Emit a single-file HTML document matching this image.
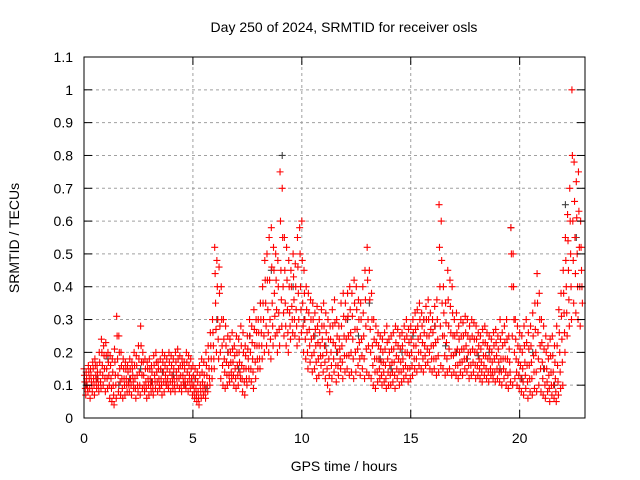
<!DOCTYPE html>
<html><head><meta charset="utf-8"><style>
body{margin:0;background:#fff;}
svg{display:block;font-family:"Liberation Sans",sans-serif;}
</style></head><body>
<svg id="chart" width="640" height="480" viewBox="0 0 640 480">
<rect width="640" height="480" fill="#fff"/>
<g id="grid"></g>
<g id="grey"></g>
<g id="red"></g>
<g id="axes"></g>
<text x="344" y="32" font-size="14" text-anchor="middle" fill="#000">Day 250 of 2024, SRMTID for receiver osls</text>
<text x="344" y="471" font-size="14" text-anchor="middle" fill="#000">GPS time / hours</text>
<text transform="translate(19,238) rotate(-90)" font-size="14" text-anchor="middle" fill="#000">SRMTID / TECUs</text>
</svg>
<script>
const xTicks=[0,5,10,15,20];
const yTicks=[0,0.1,0.2,0.3,0.4,0.5,0.6,0.7,0.8,0.9,1,1.1];
const yTickLabels=["0","0.1","0.2","0.3","0.4","0.5","0.6","0.7","0.8","0.9","1","1.1"];
const redHi=[.15,.14,.16,.15,.17,.18,.16,.2,.24,.22,.23,.2,.19,.18,.21,.31,.25,.2,.18,.17,.16,.18,.17,.2,.19,.22,.28,.2,.18,.17,.18,.16,.19,.2,.17,.18,.2,.19,.18,.2,.19,.18,.2,.21,.19,.18,.17,.2,.19,.18,.16,.15,.14,.16,.18,.17,.2,.22,.26,.3,.52,.48,.46,.4,.3,.28,.25,.24,.26,.22,.25,.24,.28,.26,.22,.25,.3,.28,.33,.3,.3,.35,.4,.48,.5,.55,.58,.52,.5,.48,.75,.7,.55,.52,.48,.45,.5,.47,.55,.58,.6,.45,.4,.38,.36,.35,.32,.34,.3,.33,.35,.32,.3,.28,.33,.36,.3,.28,.35,.38,.35,.38,.4,.38,.42,.4,.36,.35,.4,.45,.52,.45,.38,.3,.28,.26,.25,.24,.26,.28,.24,.25,.26,.28,.27,.25,.26,.28,.3,.27,.28,.3,.32,.33,.35,.32,.3,.34,.36,.32,.3,.34,.36,.65,.6,.4,.35,.45,.42,.4,.3,.32,.28,.3,.29,.31,.3,.28,.3,.29,.28,.26,.25,.27,.28,.26,.25,.24,.26,.27,.25,.3,.26,.28,.3,.25,.58,.5,.3,.28,.26,.25,.28,.3,.26,.28,.32,.35,.44,.38,.3,.28,.25,.22,.24,.25,.22,.28,.33,.38,.45,.55,.62,.7,1.0,.78,.72,.75,.6];
const redUp=[.13,.12,.14,.13,.15,.16,.14,.17,.2,.19,.19,.17,.16,.14,.17,.25,.2,.16,.15,.15,.14,.15,.15,.16,.16,.18,.22,.17,.15,.15,.15,.14,.16,.17,.15,.15,.17,.16,.15,.17,.16,.15,.17,.18,.16,.16,.15,.17,.16,.15,.13,.12,.11,.13,.14,.13,.16,.18,.22,.26,.44,.4,.38,.3,.24,.22,.2,.2,.21,.19,.2,.2,.22,.2,.19,.21,.25,.23,.27,.26,.26,.3,.35,.42,.42,.42,.46,.45,.42,.4,.6,.55,.45,.42,.4,.4,.43,.4,.46,.5,.48,.38,.33,.32,.3,.3,.27,.28,.26,.28,.28,.26,.24,.24,.28,.29,.25,.24,.28,.31,.3,.31,.33,.31,.35,.33,.3,.3,.32,.36,.42,.36,.3,.24,.23,.22,.21,.2,.21,.23,.2,.21,.21,.23,.22,.21,.22,.24,.25,.23,.24,.26,.27,.28,.3,.28,.26,.3,.3,.27,.26,.28,.3,.52,.48,.32,.29,.36,.34,.32,.25,.26,.24,.25,.25,.26,.25,.24,.25,.24,.24,.22,.21,.23,.23,.22,.21,.2,.22,.23,.21,.24,.22,.23,.24,.21,.5,.4,.24,.22,.21,.2,.22,.23,.21,.22,.25,.27,.35,.3,.23,.21,.2,.18,.19,.19,.17,.22,.26,.31,.38,.48,.54,.6,.8,.66,.61,.63,.52];
const redMid=[.11,.1,.12,.11,.12,.13,.12,.14,.16,.15,.15,.13,.12,.1,.13,.18,.15,.12,.12,.12,.11,.12,.13,.12,.13,.14,.17,.13,.11,.12,.12,.11,.13,.14,.12,.12,.14,.13,.12,.14,.13,.12,.14,.15,.13,.13,.12,.14,.13,.12,.1,.09,.08,.1,.11,.1,.13,.15,.18,.22,.35,.3,.28,.22,.18,.17,.16,.17,.17,.15,.16,.17,.16,.15,.15,.18,.2,.18,.22,.22,.22,.26,.3,.35,.33,.3,.35,.38,.33,.32,.45,.4,.35,.33,.32,.34,.36,.33,.38,.4,.35,.3,.26,.27,.24,.25,.22,.23,.22,.24,.22,.2,.18,.2,.23,.22,.2,.21,.22,.25,.24,.25,.26,.24,.27,.27,.23,.24,.25,.28,.3,.27,.22,.18,.18,.18,.17,.17,.16,.18,.16,.17,.17,.19,.18,.17,.18,.2,.2,.19,.2,.22,.22,.24,.25,.23,.22,.25,.25,.22,.22,.23,.24,.4,.35,.25,.23,.28,.26,.25,.2,.21,.2,.21,.21,.22,.2,.2,.21,.2,.2,.18,.17,.19,.19,.18,.18,.17,.18,.19,.17,.18,.18,.18,.18,.17,.4,.3,.18,.17,.16,.15,.17,.16,.16,.17,.19,.2,.26,.22,.17,.15,.15,.13,.14,.14,.12,.16,.2,.24,.32,.4,.45,.5,.6,.55,.5,.52,.45];
const redDn=[.09,.09,.09,.1,.1,.11,.1,.11,.13,.12,.12,.1,.09,.07,.1,.13,.11,.09,.1,.1,.1,.1,.11,.09,.1,.1,.13,.1,.09,.1,.1,.09,.11,.11,.1,.1,.11,.11,.1,.11,.11,.1,.12,.12,.1,.11,.1,.11,.11,.1,.08,.07,.06,.08,.09,.08,.1,.12,.15,.18,.27,.24,.2,.16,.14,.13,.13,.14,.13,.12,.13,.14,.12,.11,.12,.15,.15,.14,.17,.18,.18,.22,.25,.28,.26,.24,.28,.31,.26,.27,.36,.32,.28,.26,.28,.3,.3,.28,.3,.33,.28,.24,.2,.22,.19,.2,.17,.18,.19,.19,.17,.15,.13,.16,.18,.16,.16,.18,.17,.19,.19,.19,.2,.18,.2,.21,.18,.19,.18,.21,.22,.2,.16,.14,.14,.15,.13,.14,.12,.14,.13,.14,.13,.15,.14,.14,.15,.16,.15,.15,.16,.18,.18,.2,.2,.18,.19,.21,.2,.18,.18,.18,.19,.28,.25,.19,.18,.21,.19,.19,.16,.16,.17,.17,.18,.18,.16,.16,.17,.16,.16,.15,.14,.16,.15,.14,.15,.14,.14,.15,.14,.14,.15,.14,.13,.14,.25,.2,.14,.13,.12,.11,.13,.11,.12,.12,.14,.14,.18,.15,.12,.1,.11,.09,.1,.1,.08,.11,.14,.17,.26,.32,.36,.4,.48,.44,.4,.4,.4];
const redLo=[.07,.08,.06,.08,.07,.09,.08,.09,.1,.08,.09,.06,.05,.04,.06,.08,.07,.06,.07,.08,.08,.07,.09,.06,.08,.07,.09,.08,.06,.07,.08,.07,.09,.08,.09,.07,.08,.1,.09,.08,.09,.08,.1,.09,.08,.1,.09,.08,.09,.07,.06,.05,.04,.06,.07,.06,.08,.1,.12,.15,.2,.18,.12,.1,.09,.1,.11,.12,.1,.09,.1,.12,.08,.07,.1,.12,.11,.09,.12,.15,.15,.18,.2,.22,.2,.18,.22,.25,.2,.22,.28,.25,.22,.2,.24,.26,.25,.22,.24,.26,.2,.18,.15,.17,.14,.15,.12,.13,.16,.14,.12,.1,.08,.12,.14,.11,.13,.15,.12,.14,.15,.13,.14,.12,.14,.16,.13,.15,.12,.14,.13,.12,.1,.09,.11,.12,.1,.11,.09,.1,.1,.11,.09,.12,.1,.11,.12,.13,.11,.12,.13,.15,.14,.16,.15,.14,.16,.17,.15,.14,.15,.13,.14,.16,.15,.13,.14,.15,.13,.14,.13,.12,.14,.13,.15,.14,.12,.13,.14,.12,.13,.12,.11,.13,.12,.11,.13,.12,.11,.12,.11,.1,.12,.1,.09,.11,.1,.12,.1,.09,.08,.07,.09,.06,.08,.07,.09,.08,.1,.08,.07,.06,.08,.05,.07,.06,.05,.07,.09,.1,.2,.25,.28,.3,.35,.32,.3,.28,.35];
const greyVals=[.1,.12,.18,.1,.12,.15,.11,.14,.13,.1,.12,.09,.3,.2,.15,.25,.35,.45,.8,.4,.3,.25,.22,.2,.3,.25,.35,.18,.15,.2,.25,.3,.28,.22,.2,.18,.19,.2,.15,.58,.12,.2,.15,.1,.65,.55];
const X0=84,X1=585,Y0=418,Y1=57,XMAX=23,YMAX=1.1;
const xs=v=>X0+(X1-X0)*v/XMAX, ys=v=>Y0-(Y0-Y1)*v/YMAX;
const NS="http://www.w3.org/2000/svg";
function mk(tag,attrs,parent){const e=document.createElementNS(NS,tag);for(const k in attrs)e.setAttribute(k,attrs[k]);parent.appendChild(e);return e;}
const grid=document.getElementById('grid'),axes=document.getElementById('axes');
yTicks.forEach((v,i)=>{const y=ys(v);
 if(i>0&&i<yTicks.length-1){const l=mk('line',{x1:X0,x2:X1,y1:y,y2:y,stroke:'#a0a0a0','stroke-dasharray':'3,3'},grid);}
 mk('line',{x1:X0,x2:X0+8,y1:y,y2:y,stroke:'#000'},axes);mk('line',{x1:X1,x2:X1-8,y1:y,y2:y,stroke:'#000'},axes);
 const t=mk('text',{x:X0-11,y:y+5,'font-size':14,'text-anchor':'end',fill:'#000'},axes);t.textContent=yTickLabels[i];
 });
xTicks.forEach(v=>{const x=xs(v);
 if(v>0){const l=mk('line',{x1:x,x2:x,y1:Y0,y2:Y1,stroke:'#a0a0a0','stroke-dasharray':'3,3'},grid);}
 mk('line',{x1:x,x2:x,y1:Y0,y2:Y0-8,stroke:'#000'},axes);mk('line',{x1:x,x2:x,y1:Y1,y2:Y1+8,stroke:'#000'},axes);
 const t=mk('text',{x:x,y:Y0+25,'font-size':14,'text-anchor':'middle',fill:'#000'},axes);t.textContent=String(v);
 });
const fr=mk('rect',{x:X0,y:Y1,width:X1-X0,height:Y0-Y1,fill:'none',stroke:'#000'},axes);

function plus(g,t,v,c){const x=xs(t),y=ys(v);
 const p=mk('path',{d:`M${x-3.5} ${y}H${x+3.5}M${x} ${y-3.5}V${y+3.5}`,stroke:c,'stroke-width':1.1,fill:'none'},g);
 }
const gG=document.getElementById('grey'),gR=document.getElementById('red');
greyVals.forEach((v,i)=>plus(gG,i*0.5+0.1,v,'#404040'));
[redHi,redUp,redMid,redDn,redLo].forEach((arr,k)=>arr.forEach((v,i)=>plus(gR,i*0.1+k*0.02,v,'#ff0000')));
</script>
</body></html>
